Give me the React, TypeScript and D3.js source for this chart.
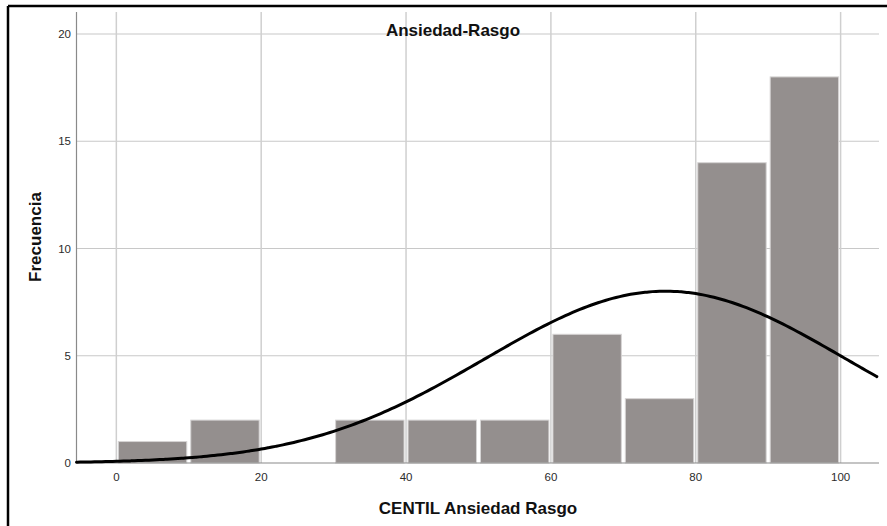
import * as d3 from "d3";

const binStarts = [0, 10, 20, 30, 40, 50, 60, 70, 80, 90];
const counts = [1, 2, 0, 2, 2, 2, 6, 3, 14, 18];
const xTicks = [0, 20, 40, 60, 80, 100];
const yTicks = [0, 5, 10, 15, 20];
// fitted normal curve
const curveMean = 75.8;
const curveSd = 24.9;
const binWidth = 10;

const W = 887;
const H = 526;
const left = 76.5;
const right = 879;
const top = 12;
const bottom = 463;

export default function App() {
  const x = d3.scaleLinear().domain([-5.5, 105.3]).range([left, right]);
  const y = d3.scaleLinear().domain([0, 20]).range([bottom, 34]);
  const n = d3.sum(counts);

  const curvePts = d3.range(-5.5, 105.31, 0.5).map((v) => {
    const z = (v - curveMean) / curveSd;
    const dens = (n * binWidth) / (curveSd * Math.sqrt(2 * Math.PI)) * Math.exp(-0.5 * z * z);
    return [v, dens] as [number, number];
  });
  const line = d3
    .line<[number, number]>()
    .x((d) => x(d[0]))
    .y((d) => y(d[1]))
    .curve(d3.curveBasis);

  const font = "'Liberation Sans', Arimo, sans-serif";

  return (
    <div style={{ position: "fixed", left: 0, top: 0 }}>
      <svg width={W} height={H} style={{ display: "block", background: "#fff" }}>
        {/* frame */}
        <line x1={8} y1={6} x2={8} y2={H} stroke="#000" strokeWidth={2.5} />
        <line x1={8} y1={6} x2={W} y2={6} stroke="#000" strokeWidth={2.5} />

        {/* grid */}
        {yTicks.slice(1).map((t) => (
          <line key={"gy" + t} x1={left} x2={right} y1={y(t)} y2={y(t)} stroke="#c8c8c8" strokeWidth={1.2} />
        ))}
        {xTicks.map((t) => (
          <line key={"gx" + t} x1={x(t)} x2={x(t)} y1={top} y2={bottom} stroke="#cfcfcf" strokeWidth={1.5} />
        ))}

        {/* bars */}
        {binStarts.map((b, i) =>
          counts[i] > 0 ? (
            <rect
              key={b}
              x={x(b) + 2}
              width={x(b + binWidth) - x(b) - 4}
              y={y(counts[i])}
              height={bottom - y(counts[i])}
              fill="#948f8e"
              stroke="#d6d4d4"
              strokeWidth={1}
            />
          ) : null
        )}

        {/* axes */}
        <line x1={left} x2={left} y1={top} y2={bottom} stroke="#8a8a8a" strokeWidth={1.2} />
        <line x1={left} x2={right} y1={bottom} y2={bottom} stroke="#8a8a8a" strokeWidth={1.2} />

        {/* normal curve */}
        <path d={line(curvePts) ?? ""} fill="none" stroke="#000" strokeWidth={3} strokeLinecap="round" />

        {/* tick labels */}
        {yTicks.map((t) => (
          <text key={"ty" + t} x={71} y={y(t) + 4} textAnchor="end" fontSize={11.5} fontFamily={font} fill="#2b2b2b">
            {t}
          </text>
        ))}
        {xTicks.map((t) => (
          <text key={"tx" + t} x={x(t)} y={481} textAnchor="middle" fontSize={11.5} fontFamily={font} fill="#2b2b2b">
            {t}
          </text>
        ))}

        {/* titles */}
        <text x={453} y={36} textAnchor="middle" fontSize={17} fontWeight="bold" fontFamily={font} fill="#111">
          Ansiedad-Rasgo
        </text>
        <text x={478} y={514} textAnchor="middle" fontSize={17} fontWeight="bold" fontFamily={font} fill="#111">
          CENTIL Ansiedad Rasgo
        </text>
        <text
          transform="translate(41, 237) rotate(-90)"
          textAnchor="middle"
          fontSize={17}
          fontWeight="bold"
          fontFamily={font}
          fill="#111"
        >
          Frecuencia
        </text>
      </svg>
    </div>
  );
}
